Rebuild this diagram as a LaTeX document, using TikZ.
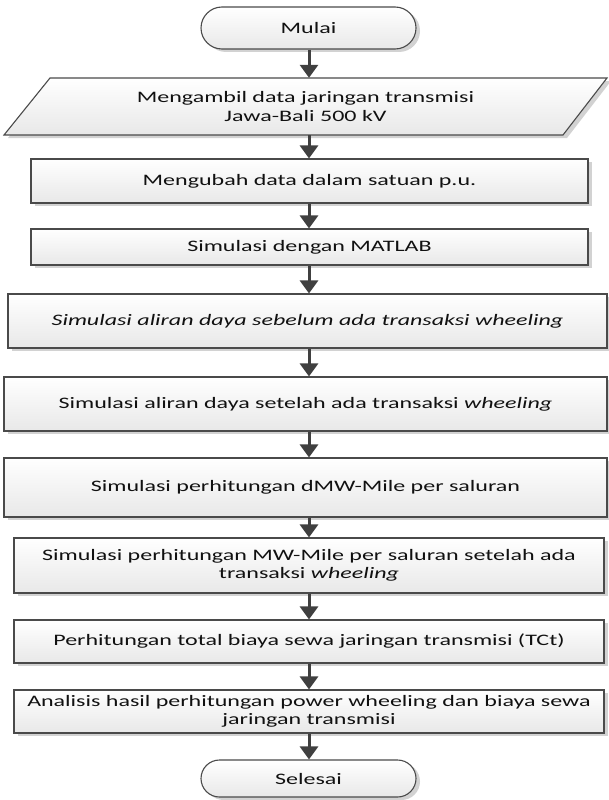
\documentclass[tikz,border=0pt]{standalone}
\usepackage{fontspec}
\setmainfont{Carlito}[FakeStretch=1.5]
\usetikzlibrary{shapes.misc,shadows,arrows.meta}
\definecolor{edgec}{HTML}{4A4A4A}
\definecolor{arrowc}{HTML}{404040}
\definecolor{txtc}{HTML}{111111}
\definecolor{shadec}{HTML}{E8E8E8}
\definecolor{shadowc}{HTML}{D2D2D2}
\tikzset{
  fillstyle/.style={draw=edgec, line width=1.1pt, top color=white, bottom color=shadec,
    drop shadow={shadow xshift=4pt, shadow yshift=-3pt, fill=shadowc, opacity=1}},
  procbox/.style={fillstyle, rectangle, text=txtc, align=center,
    font=\fontsize{16}{18.5}\selectfont, inner sep=0pt},
  termbox/.style={procbox, rounded rectangle, rounded rectangle arc length=180},
  textonly/.style={text=txtc, align=center, font=\fontsize{16}{18.5}\selectfont, inner sep=0pt},
  arr/.style={draw=arrowc, line width=3pt, -{Triangle[width=18pt,length=13pt,fill=arrowc]}}
}
\begin{document}
\begin{tikzpicture}[x=1pt,y=-1pt]
\useasboundingbox (0,0) rectangle (609,800);
\coordinate (ax) at (309,0);

\node[termbox, minimum width=215pt, minimum height=42pt] (mulai) at (308.5,28) {Mulai};

\path[fillstyle] (50,78) -- (607,78) -- (563,135) -- (4,135) -- cycle;
\node[textonly, minimum width=500pt, minimum height=57pt] (ambil) at (305.5,106.5)
  {Mengambil data jaringan transmisi\\Jawa-Bali 500 kV};

\node[procbox, minimum width=557pt, minimum height=44pt] (ubah) at (309.5,181)
  {Mengubah data dalam satuan p.u.};
\node[procbox, minimum width=557pt, minimum height=36pt] (matlab) at (309.5,247)
  {Simulasi dengan MATLAB};
\node[procbox, minimum width=599pt, minimum height=54pt] (sebelum) at (307.5,321)
  {\itshape Simulasi aliran daya sebelum ada transaksi wheeling};
\node[procbox, minimum width=603pt, minimum height=54pt] (setelah) at (305.5,404)
  {Simulasi aliran daya setelah ada transaksi \textit{wheeling}};
\node[procbox, minimum width=603pt, minimum height=59pt] (dmw) at (305.5,487.5)
  {Simulasi perhitungan dMW-Mile per saluran};
\node[procbox, minimum width=590pt, minimum height=55pt] (mw) at (309,565.5)
  {Simulasi perhitungan MW-Mile per saluran setelah ada\\transaksi \textit{wheeling}};
\node[procbox, minimum width=590pt, minimum height=43pt] (total) at (309,641.5)
  {Perhitungan total biaya sewa jaringan transmisi (TCt)};
\node[procbox, minimum width=590pt, minimum height=43pt] (analisis) at (309,711.5)
  {Analisis hasil perhitungan power wheeling dan biaya sewa\\jaringan transmisi};
\node[termbox, minimum width=215pt, minimum height=37pt] (selesai) at (308.5,778.5) {Selesai};

\draw[arr] (mulai.south -| ax) -- (ambil.north -| ax);
\draw[arr] (ambil.south -| ax) -- (ubah.north -| ax);
\draw[arr] (ubah.south -| ax) -- (matlab.north -| ax);
\draw[arr] (matlab.south -| ax) -- (sebelum.north -| ax);
\draw[arr] (sebelum.south -| ax) -- (setelah.north -| ax);
\draw[arr] (setelah.south -| ax) -- (dmw.north -| ax);
\draw[arr] (dmw.south -| ax) -- (mw.north -| ax);
\draw[arr] (mw.south -| ax) -- (total.north -| ax);
\draw[arr] (total.south -| ax) -- (analisis.north -| ax);
\draw[arr] (analisis.south -| ax) -- (selesai.north -| ax);
\end{tikzpicture}
\end{document}
